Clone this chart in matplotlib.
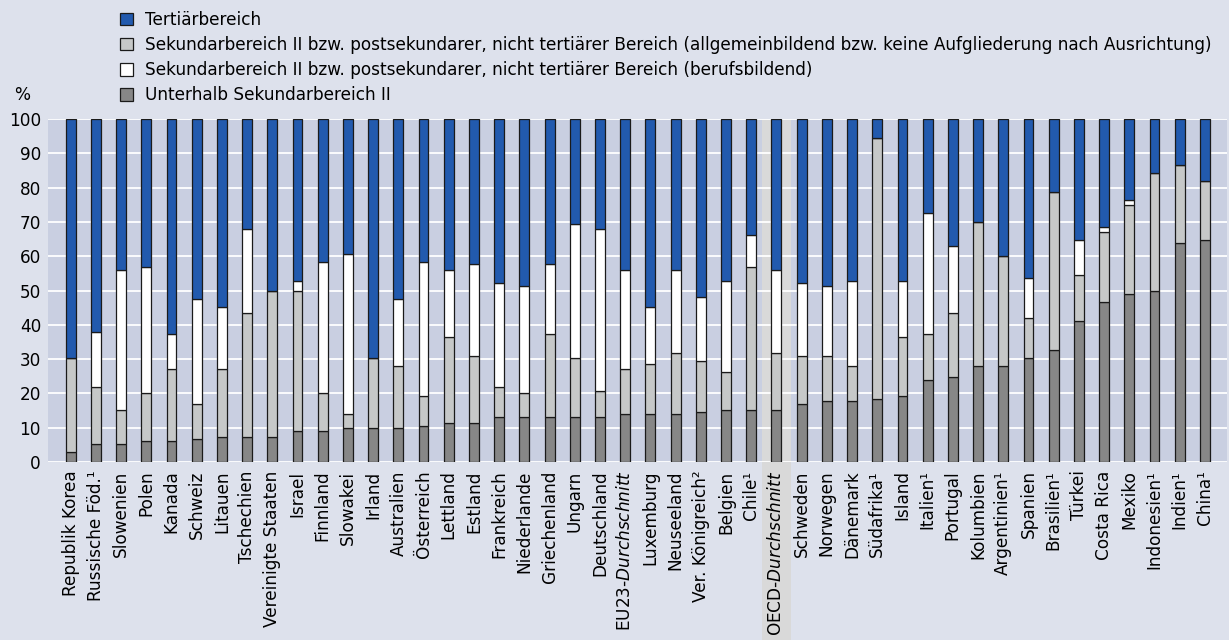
import numpy as np
import matplotlib
matplotlib.use("Agg")
import matplotlib.pyplot as plt
from matplotlib.patches import Patch, Rectangle

plt.rcParams['font.family'] = ['DejaVu Sans']
plt.rcParams['mathtext.fontset'] = 'custom'
plt.rcParams['mathtext.rm'] = 'DejaVu Sans'
plt.rcParams['mathtext.it'] = 'DejaVu Sans:italic'

# ------------------------------------------------------------------
# Daten (Anteile in %)
# ------------------------------------------------------------------
laender = [
    "Republik Korea", "Russische Föd.¹", "Slowenien", "Polen", "Kanada",
    "Schweiz", "Litauen", "Tschechien", "Vereinigte Staaten", "Israel",
    "Finnland", "Slowakei", "Irland", "Australien", "Österreich",
    "Lettland", "Estland", "Frankreich", "Niederlande", "Griechenland",
    "Ungarn", "Deutschland", r"EU23-$\mathit{Durchschnitt}$", "Luxemburg", "Neuseeland",
    "Ver. Königreich²", "Belgien", "Chile¹", r"OECD-$\mathit{Durchschnitt}$", "Schweden",
    "Norwegen", "Dänemark", "Südafrika¹", "Island", "Italien¹",
    "Portugal", "Kolumbien", "Argentinien¹", "Spanien", "Brasilien¹",
    "Türkei", "Costa Rica", "Mexiko", "Indonesien¹", "Indien¹",
    "China¹",
]

unterhalb = [2.8, 5.2, 5.2, 6.0, 6.0, 6.7, 7.4, 7.4, 7.4, 9.1,
             9.1, 9.8, 9.8, 9.8, 10.6, 11.4, 11.4, 13.0, 13.0, 13.0,
             13.0, 13.0, 13.9, 13.9, 13.9, 14.5, 15.3, 15.3, 15.3, 16.9,
             17.7, 17.7, 18.4, 19.3, 23.9, 24.7, 27.9, 27.9, 30.2, 32.6,
             41.2, 46.6, 49.1, 49.8, 63.9, 64.7]

allgemein = [27.4, 16.6, 10.1, 14.0, 21.1, 10.3, 19.7, 36.2, 42.4, 40.7,
             10.9, 4.1, 20.4, 18.1, 8.7, 25.1, 19.6, 8.8, 7.0, 24.3,
             17.2, 7.8, 13.2, 14.8, 17.9, 15.0, 11.0, 41.6, 16.5, 14.1,
             13.3, 10.2, 76.0, 17.2, 13.4, 18.9, 42.2, 32.1, 11.8, 46.2,
             13.3, 20.4, 25.8, 34.5, 22.7, 17.3]

beruflich = [0.0, 16.2, 40.7, 36.9, 10.2, 30.4, 18.0, 24.3, 0.0, 3.1,
             38.3, 46.8, 0.0, 19.5, 39.0, 19.5, 26.6, 30.4, 31.3, 20.3,
             39.2, 47.0, 28.9, 16.4, 24.2, 18.7, 26.6, 9.3, 24.2, 21.2,
             20.3, 25.0, 0.0, 16.4, 35.3, 19.5, 0.0, 0.0, 11.7, 0.0,
             10.2, 1.6, 1.6, 0.0, 0.0, 0.0]

tertiaer = [69.8, 62.0, 44.0, 43.1, 62.7, 52.6, 54.9, 32.1, 50.2, 47.1,
            41.7, 39.3, 69.8, 52.6, 41.7, 44.0, 42.4, 47.8, 48.7, 42.4,
            30.6, 32.2, 44.0, 54.9, 44.0, 51.8, 47.1, 33.8, 44.0, 47.8,
            48.7, 47.1, 5.6, 47.1, 27.4, 36.9, 29.9, 40.0, 46.3, 21.2,
            35.3, 31.4, 23.5, 15.7, 13.4, 18.0]

legende = [
    "Tertiärbereich",
    "Sekundarbereich II bzw. postsekundarer, nicht tertiärer Bereich (allgemeinbildend bzw. keine Aufgliederung nach Ausrichtung)",
    "Sekundarbereich II bzw. postsekundarer, nicht tertiärer Bereich (berufsbildend)",
    "Unterhalb Sekundarbereich II",
]

# Farben
BG_FIG = "#dde1ec"
BG_AX = "#c9cfe1"
BLAU = "#225aae"
HELLGRAU = "#c6c8c8"
DUNKELGRAU = "#878787"
WEISS = "#ffffff"
KANTE = "#1a1a1a"

FS = 12.2

# ------------------------------------------------------------------
fig = plt.figure(figsize=(12.29, 6.40), dpi=100, facecolor=BG_FIG)
ax = fig.add_axes([0.0391, 0.278, 0.9593, 0.536])
ax.set_facecolor(BG_AX)

x = np.arange(len(laender))
w = 0.39
kw = dict(width=w, edgecolor=KANTE, linewidth=0.9, zorder=2)

b1 = np.array(unterhalb)
b2 = b1 + np.array(allgemein)
b3 = b2 + np.array(beruflich)

ax.bar(x, unterhalb, color=DUNKELGRAU, **kw)
ax.bar(x, allgemein, bottom=b1, color=HELLGRAU, **kw)
ax.bar(x, beruflich, bottom=b2, color=WEISS, **kw)
ax.bar(x, tertiaer, bottom=b3, color=BLAU, **kw)

# Hervorhebung OECD-Durchschnitt (Band reicht bis unter die Beschriftung)
i_oecd = 28
band = Rectangle((i_oecd - 0.56, -0.56), 1.12, 1.56, transform=ax.get_xaxis_transform(),
                 facecolor="#d9d9d9", edgecolor="none", clip_on=False, zorder=0.3)
ax.add_patch(band)

ax.set_xlim(-0.9, 45.88)
ax.set_ylim(0, 100)
ax.set_yticks(np.arange(0, 101, 10))
ax.set_axisbelow(True)
ax.yaxis.grid(True, color="white", linewidth=1.3)
ax.xaxis.grid(False)
for s in ax.spines.values():
    s.set_visible(False)

ax.set_xticks(x)
ax.set_xticklabels(laender, rotation=90, fontsize=FS)
ax.tick_params(axis="x", length=0, pad=6)
ax.tick_params(axis="y", length=0, pad=5, labelsize=FS)

fig.text(22 / 1229, 1 - 95 / 640, "%", fontsize=FS, ha="center", va="center")

handles = [Patch(facecolor=c, edgecolor=KANTE, linewidth=0.9)
           for c in (BLAU, HELLGRAU, WEISS, DUNKELGRAU)]
fig.legend(handles, legende, loc="upper left", bbox_to_anchor=(120 / 1229, 1 - 11 / 640),
           frameon=False, fontsize=FS, handlelength=0.75, handleheight=0.75,
           handletextpad=0.75, labelspacing=0.42, borderpad=0, borderaxespad=0)

fig.savefig("out.png", dpi=100, facecolor=BG_FIG)
